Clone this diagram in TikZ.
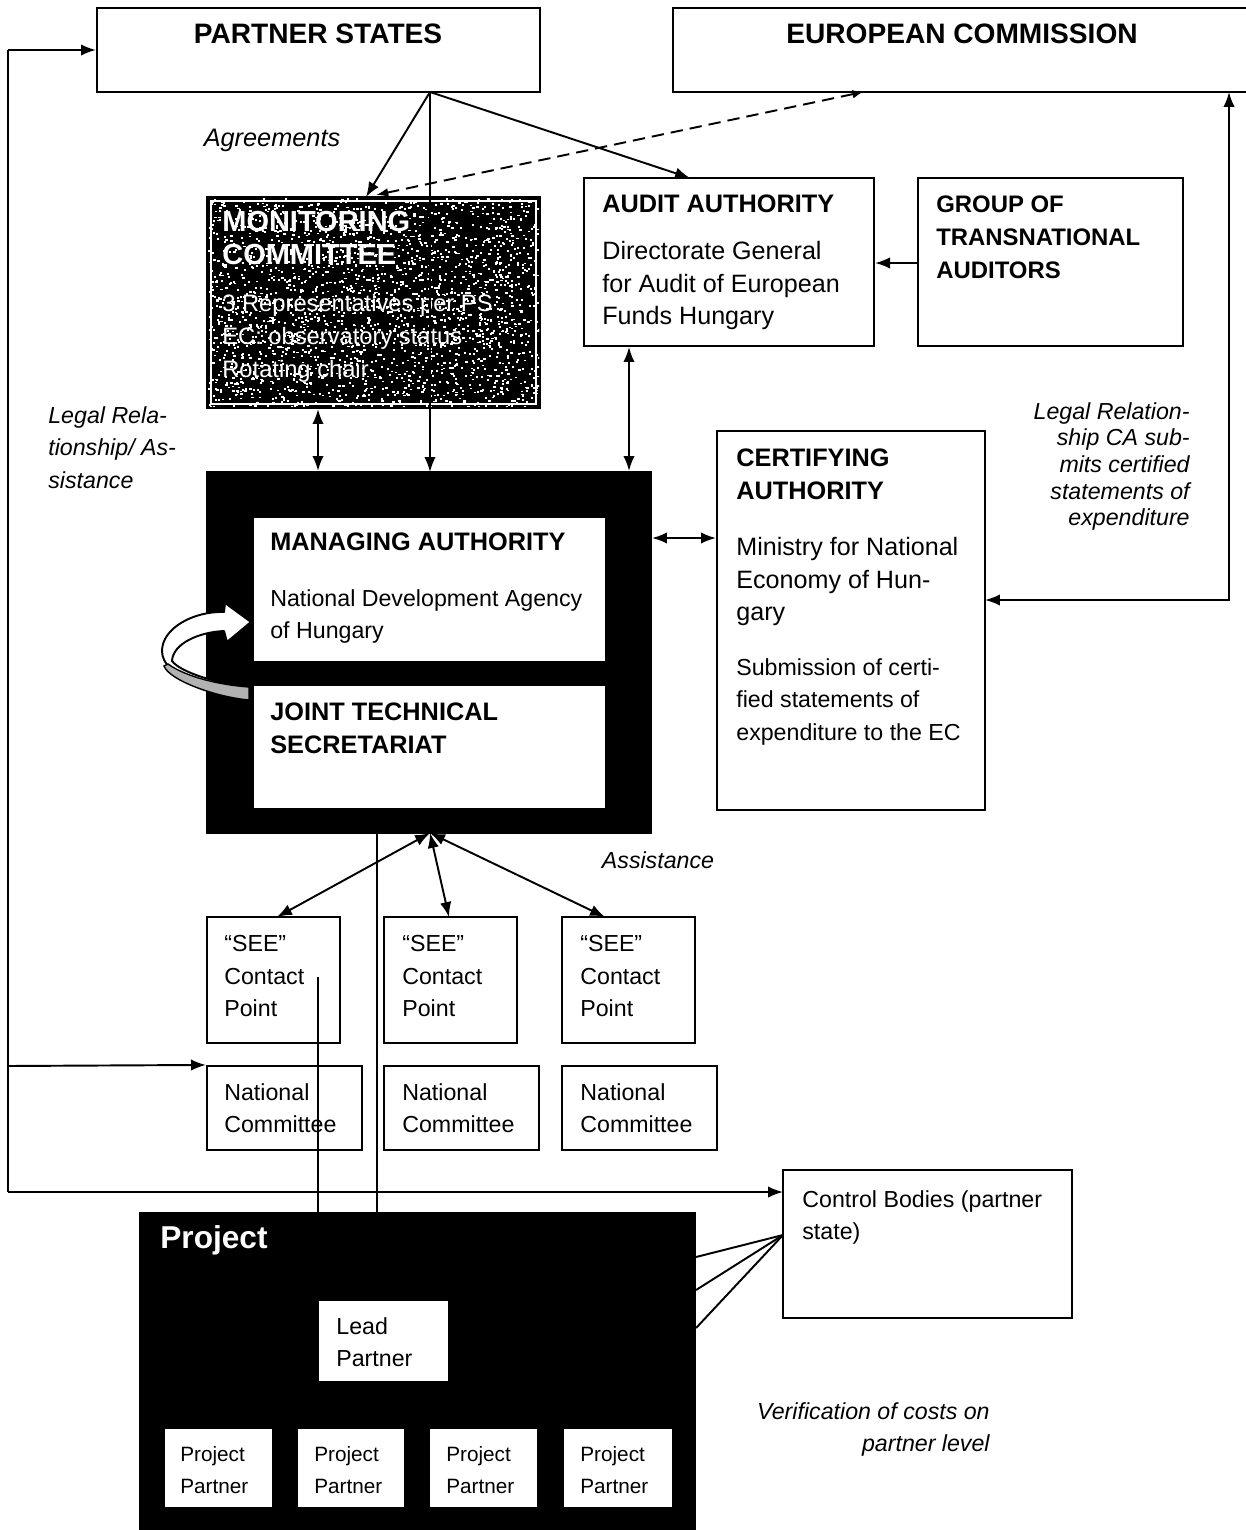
\documentclass[tikz,border=0pt]{standalone}
\usepackage{fontspec}
\setmainfont{Liberation Sans}
\usetikzlibrary{arrows.meta,fit}
\newcommand\szTop{\fontsize{16}{18.8}\selectfont\bfseries}
\newcommand\szHead{\fontsize{14.4}{18.8}\selectfont\bfseries}
\newcommand\szMCt{\fontsize{16.5}{18.8}\selectfont\bfseries}
\newcommand\szMCb{\fontsize{13.5}{18.8}\selectfont}
\newcommand\szBody{\fontsize{14.3}{18.5}\selectfont}
\newcommand\szSmall{\fontsize{13.2}{18.5}\selectfont}
\newcommand\szItal{\fontsize{13.2}{18.5}\selectfont\itshape}
\newcommand\szProj{\fontsize{18}{20}\selectfont\bfseries}
\begin{document}
\begin{tikzpicture}[x=0.02cm,y=-0.02cm,
  box/.style={draw, line width=1.2pt, inner sep=0pt, fill=white},
  blackbox/.style={draw, line width=1.2pt, inner sep=0pt, fill=black},
  txt/.style={inner sep=0pt, anchor=north west, align=left},
  conn/.style={line width=1.1pt},
  arr/.style={conn, -{Latex[length=8.5pt,width=6.5pt]}},
  darr/.style={conn, {Latex[length=8.5pt,width=6.5pt]}-{Latex[length=8.5pt,width=6.5pt]}}]
\useasboundingbox (0,0) rectangle (1246,1530);
\fill[white] (0,0) rectangle (1246,1530);

% ---------- boxes ----------
\node[box, fit={(97,8) (540,92)}] (ps) {};
\node[box, fit={(673,8) (1256,92)}] (ec) {};
\node[blackbox, fit={(207,197) (540,408)}] (mc) {};
\begin{scope}
  \clip (208,198) rectangle (539,407);
  \pgfmathsetseed{11}
  \foreach \i in {1,...,2300}{\fill[white] ({208+331*rnd},{198+209*rnd}) rectangle ++(2.2,1.8);}
\end{scope}
\draw[white, line width=0.8pt] (211,201) rectangle (536,404);
\node[box, fit={(584,178) (874,346)}] (aa) {};
\node[box, fit={(918,178) (1183,346)}] (gta) {};
\node[blackbox, fit={(207,472) (651,833)}] (big) {};
\node[box, fit={(253,517) (606,662)}] (ma) {};
\node[box, fit={(253,685) (606,809)}] (jts) {};
\node[box, fit={(717,431) (985,810)}] (ca) {};
\node[box, fit={(207,917) (340,1043)}] (see1) {};
\node[box, fit={(384,917) (517,1043)}] (see2) {};
\node[box, fit={(562,917) (695,1043)}] (see3) {};
\node[box, fit={(207,1066) (362,1150)}] (nc1) {};
\node[box, fit={(384,1066) (539,1150)}] (nc2) {};
\node[box, fit={(562,1066) (717,1150)}] (nc3) {};
\node[box, fit={(783,1170) (1072,1318)}] (cb) {};
\node[blackbox, fit={(140,1213) (695,1532)}] (proj) {};
\node[box, fit={(318,1300) (449,1382)}] (lp) {};
\node[box, fit={(164,1428) (273,1508)}] (pp1) {};
\node[box, fit={(297,1428) (405,1508)}] (pp2) {};
\node[box, fit={(429,1428) (538,1508)}] (pp3) {};
\node[box, fit={(563,1428) (673,1508)}] (pp4) {};

% ---------- curved arrow (ribbon) ----------
\filldraw[fill=white, line width=1.1pt, line join=round]
  (251,622) -- (225,603) -- (224,612)
  .. controls (194,611) and (162,628) .. (162,651)
  .. controls (162,677) and (215,697) .. (249,700)
  -- (249,687)
  .. controls (220,684) and (181,673) .. (172,661)
  .. controls (173,643) and (200,632) .. (224,631)
  -- (227,642) -- cycle;
\filldraw[fill=gray!60, line width=0.8pt]
  (168,664) .. controls (186,677) and (220,685) .. (249,687)
  -- (249,700) .. controls (215,697) and (169,680) .. (164,666) -- cycle;

% ---------- texts ----------
\node[inner sep=0pt, font=\szTop] (tps) at (318,34) {PARTNER STATES};
\node[inner sep=0pt, font=\szTop] (tec) at (962,34) {EUROPEAN COMMISSION};
\node[inner sep=0pt, font=\fontsize{14.4}{16}\selectfont\itshape] (tagr) at (272,140) {Agreements};
\node[txt, font=\szMCt, text=white] (tmc1) at (222,211) {MONITORING\\COMMITTEE};
\node[txt, font=\szMCb, text=white] (tmc2) at (222,294) {3 Representatives per PS\\EC: observatory status\\Rotating chair};
\node[txt, font=\szHead] (taa1) at (602,194) {AUDIT AUTHORITY};
\node[txt, font=\szBody] (taa2) at (602,241) {Directorate General\\for Audit of European\\Funds Hungary};
\node[txt, font=\fontsize{13.6}{18.8}\selectfont\bfseries] (tgta) at (936,195) {GROUP OF\\TRANSNATIONAL\\AUDITORS};
\node[txt, font=\szHead] (tca1) at (736,448) {CERTIFYING\\AUTHORITY};
\node[txt, font=\szBody] (tca2) at (736,537) {Ministry for National\\Economy of Hun-\\gary};
\node[txt, font=\szSmall] (tca3) at (736,658) {Submission of certi-\\fied statements of\\expenditure to the EC};
\node[txt, font=\szHead] (tma1) at (270,532) {MANAGING AUTHORITY};
\node[txt, font=\szSmall] (tma2) at (270,589) {National Development Agency\\of Hungary};
\node[txt, font=\szHead] (tjts) at (270,702) {JOINT TECHNICAL\\SECRETARIAT};
\node[txt, font=\szItal] (tlegL) at (48,406) {Legal Rela-\\tionship/ As-\\sistance};
\node[inner sep=0pt, anchor=north east, align=right, font=\fontsize{13.2}{15.2}\selectfont\itshape] (tlegR) at (1190,402) {Legal Relation-\\ship CA sub-\\mits certified\\statements of\\expenditure};
\node[inner sep=0pt, font=\szItal] (tass) at (658,860) {Assistance};
\node[txt, font=\szSmall] (ts1) at (224,935) {“SEE”\\Contact\\Point};
\node[txt, font=\szSmall] (ts2) at (402,935) {“SEE”\\Contact\\Point};
\node[txt, font=\szSmall] (ts3) at (580,935) {“SEE”\\Contact\\Point};
\node[txt, font=\szSmall] (tn1) at (224,1083) {National\\Committee};
\node[txt, font=\szSmall] (tn2) at (402,1083) {National\\Committee};
\node[txt, font=\szSmall] (tn3) at (580,1083) {National\\Committee};
\node[txt, font=\szSmall] (tcb) at (802,1190) {Control Bodies (partner\\state)};
\node[txt, font=\szProj, text=white] (tproj) at (160,1225) {Project};
\node[txt, font=\szSmall] (tlp) at (336,1317) {Lead\\Partner};
\node[txt, font=\fontsize{11.8}{18.2}\selectfont] (tpp1) at (180,1446) {Project\\Partner};
\node[txt, font=\fontsize{11.8}{18.2}\selectfont] (tpp2) at (314,1446) {Project\\Partner};
\node[txt, font=\fontsize{11.8}{18.2}\selectfont] (tpp3) at (446,1446) {Project\\Partner};
\node[txt, font=\fontsize{11.8}{18.2}\selectfont] (tpp4) at (580,1446) {Project\\Partner};
\node[inner sep=0pt, anchor=north east, align=right, font=\szItal] (tver) at (990,1402) {Verification of costs on\\partner level};

% ---------- coordinates ----------
\coordinate (psO) at (430,92);
\coordinate (mcT) at (366,197);
\coordinate (mcT2) at (376,195);
\coordinate (aaT) at (690,178);
\coordinate (ecB) at (863,92);
\coordinate (bigT) at (430,472);
\coordinate (bigB) at (430,833);
\coordinate (lTop) at (8,50);
\coordinate (lNC) at (8,1066);
\coordinate (lBot) at (8,1192);
\coordinate (cbW) at (783,1192);
\coordinate (caR) at (985,600);
\coordinate (ecR) at (1229,92);
\coordinate (cbL) at (783,1235);
\coordinate (see1T) at (277,917);
\coordinate (see2T) at (449,917);
\coordinate (see3T) at (605,917);
\coordinate (v1a) at (318,977);
\coordinate (v2a) at (377,833);

% ---------- connectors ----------
\draw[arr] (psO) -- (mcT);
\draw[arr] (psO) -- (bigT);
\draw[arr] (psO) -- (aaT);
\draw[conn, dashed, dash pattern=on 7pt off 4pt, {Latex[length=7pt,width=5pt]}-{Latex[length=6pt,width=5pt]}] (mcT2) -- (ecB);
\draw[darr] (mc.south -| 318,0) -- (big.north -| 318,0);
\draw[darr] (aa.south -| 629,0) -- (big.north -| 629,0);
\draw[arr] (gta.west |- 0,263) -- (aa.east |- 0,263);
\draw[darr] (big.east |- 0,538) -- (ca.west |- 0,538);
\draw[darr] (caR) -| (ecR);
\draw[conn] (lTop) -- (lBot);
\draw[arr] (lTop) -- (ps.west);
\draw[arr] (lNC) -- (nc1.north west);
\draw[arr] (lBot) -- (cbW);
\draw[darr] (bigB) -- (see1T);
\draw[darr] (bigB) -- (see2T);
\draw[darr] (bigB) -- (see3T);
\draw[conn] (v1a) -- (v1a |- proj.north);
\draw[conn] (v2a) -- (v2a |- proj.north);
\draw[conn] (proj.east |- 0,1257) -- (cbL);
\draw[conn] (proj.east |- 0,1290) -- (cbL);
\draw[conn] (proj.east |- 0,1328) -- (cbL);
\end{tikzpicture}
\end{document}
